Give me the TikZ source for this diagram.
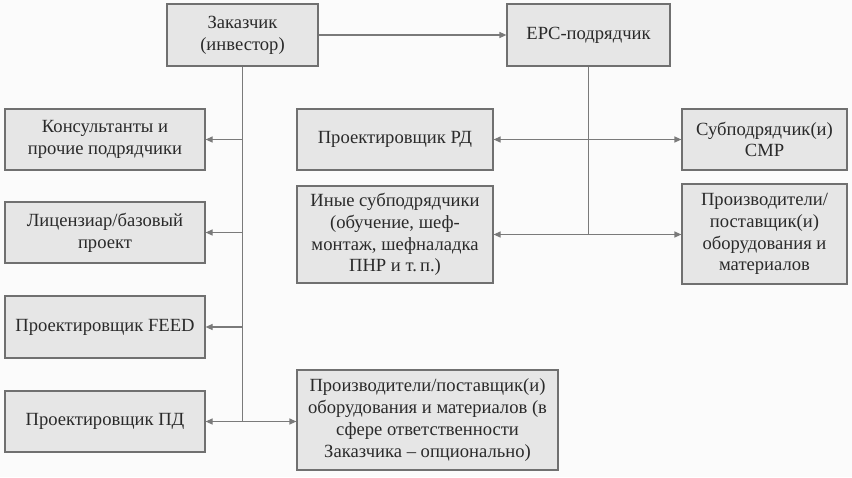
\documentclass[tikz,border=0pt]{standalone}
\usepackage{fontspec}
\setmainfont{Liberation Serif}
\usetikzlibrary{arrows.meta}
\definecolor{boxfill}{HTML}{E6E6E6}
\definecolor{boxdraw}{HTML}{707070}
\definecolor{linecol}{HTML}{7A7A7A}
\definecolor{txt}{HTML}{2A2A2A}
\definecolor{bg}{HTML}{FBFBFB}
\begin{document}
\begin{tikzpicture}[x=1pt,y=-1pt,
  box/.style={draw=boxdraw,fill=boxfill,line width=1.2pt,align=center,inner sep=2pt,
    text=txt,font=\fontsize{18.6}{21.7}\selectfont},
  conn/.style={draw=linecol,line width=1.2pt},
  arr/.style={conn,-{Triangle[length=7pt,width=6pt]}},
  arrb/.style={conn,{Triangle[length=7pt,width=6pt]}-{Triangle[length=7pt,width=6pt]}}]
\fill[bg] (0,0) rectangle (852,477);
\useasboundingbox (0,0) rectangle (852,477);
\node[box,minimum width=151pt,minimum height=62pt] (zak) at (242.5,35) {Заказчик\\(инвестор)};
\node[box,minimum width=163pt,minimum height=62pt] (epc) at (588.5,35) {EPC-подрядчик};
\node[box,minimum width=200pt,minimum height=61pt] (kons) at (105,139.5) {Консультанты и\\прочие подрядчики};
\node[box,minimum width=200pt,minimum height=61pt] (lic) at (105,232.5) {Лицензиар/базовый\\проект};
\node[box,minimum width=200pt,minimum height=62pt] (feed) at (105,327) {Проектировщик FEED};
\node[box,minimum width=200pt,minimum height=61pt] (pd) at (105,421.5) {Проектировщик ПД};
\node[box,minimum width=196pt,minimum height=61pt] (rd) at (395,139.5) {Проектировщик РД};
\node[box,minimum width=196pt,minimum height=97pt] (inye) at (395,234.5) {Иные субподрядчики\\(обучение, шеф-\\монтаж, шефналадка\\ПНР и т.\,п.)};
\node[box,minimum width=261pt,minimum height=100pt] (bot) at (427.5,420) {Производители/поставщик(и)\\оборудования и материалов (в\\сфере ответственности\\Заказчика – опционально)};
\node[box,minimum width=165pt,minimum height=61pt] (sub) at (764.5,139.5) {Субподрядчик(и)\\СМР};
\node[box,minimum width=165pt,minimum height=100pt] (prz) at (764.5,234) {Производители/\\поставщик(и)\\оборудования и\\материалов};
\coordinate (j) at (zak.south |- pd.east);
\draw[arr] (zak.east) -- (epc.west);
\draw[conn] (zak.south) -- (j);
\draw[arr] (zak.south |- kons.east) -- (kons.east);
\draw[arr] (zak.south |- lic.east) -- (lic.east);
\draw[arr] (zak.south |- feed.east) -- (feed.east);
\draw[arr] (j) -- (pd.east);
\draw[arr] (j) -- (bot.west |- j);
\draw[conn] (epc.south) -- (epc.south |- inye.east);
\draw[arrb] (rd.east) -- (sub.west);
\draw[arrb] (inye.east) -- (inye.east -| prz.west);
\end{tikzpicture}
\end{document}
